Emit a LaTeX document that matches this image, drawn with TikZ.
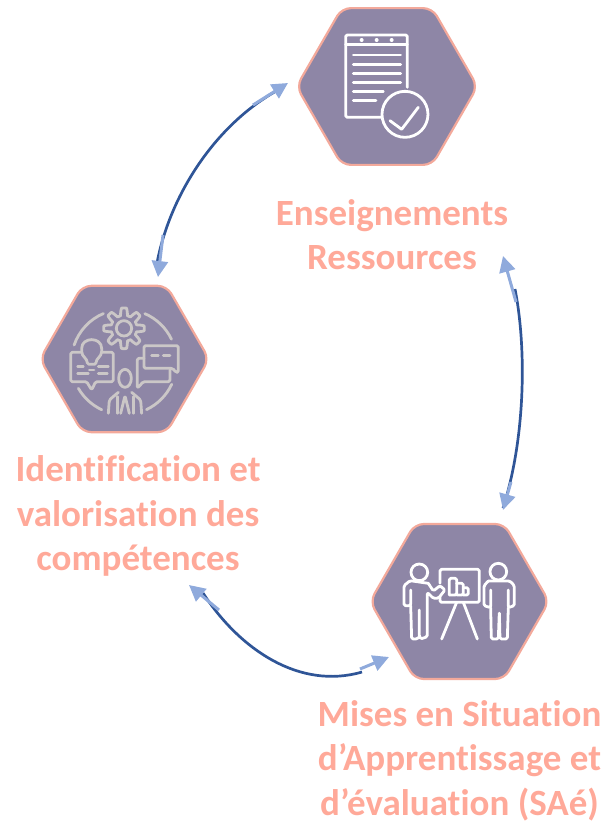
\documentclass[tikz,border=0pt]{standalone}
\usepackage{fontspec}
\setmainfont[Ligatures=CommonOff]{Carlito}
\usetikzlibrary{shapes.geometric,arrows.meta,positioning}
\definecolor{hexfill}{HTML}{8E86A6}
\definecolor{hexline}{HTML}{F3A99B}
\definecolor{labelcol}{HTML}{FFA999}
\definecolor{arcdark}{HTML}{2F5597}
\definecolor{arclight}{HTML}{8FAADC}
\definecolor{icongrey}{HTML}{CBC7C7}
\tikzset{
	hexnode/.style={regular polygon,regular polygon sides=6,draw=hexline,fill=hexfill,line width=2.2pt,rounded corners=9pt,inner sep=0pt,outer sep=0pt},
	titletext/.style={font=\fontsize{37}{44.5}\selectfont\bfseries,text=labelcol,align=center,inner sep=0pt},
	arcline/.style={draw=arcdark,line width=2.7pt},
	tipline/.style={draw=arclight,line width=3pt,-{Triangle[length=16pt,width=16pt]}},
	iconline/.style={line width=2.8pt,line cap=round,line join=round,rounded corners=1.5pt},
}
\begin{document}
\begin{tikzpicture}[x=1pt,y=-1pt,node distance=148pt]
	\useasboundingbox (0,0) rectangle (608,823);

	\node[hexnode,minimum size=181pt] (ressources) at (387,86.5) {};
	\node[hexnode,minimum size=169pt] (competences) at (124.5,359) {};
	\node[hexnode,minimum size=179pt] (sae) at (459.5,601.5) {};

	\node[titletext,xshift=5pt] (ressourcestext) [below of=ressources] {Enseignements\\Ressources};
	\node[titletext,xshift=13.5pt,node distance=157pt] (competencestext) [below of=competences] {Identification et\\valorisation des\\compétences};
	\node[titletext,node distance=159pt] (saetext) [below of=sae] {Mises en Situation\\d’Apprentissage et\\d’évaluation (SAé)};

	% ends of the arcs
	\coordinate (a1) at (278,90);
	\coordinate (a2) at (157,263);
	\coordinate (b1) at (515,289);
	\coordinate (b2) at (503,508);
	\coordinate (c1) at (203,593);
	\coordinate (c2) at (362,672);

	\draw[arcline] (a1) .. controls (215,125) and (170,195) .. (a2);
	\draw[arcline] (b1) .. controls (527,350) and (525,440) .. (b2);
	\draw[arcline] (c1) .. controls (240,650) and (300,690) .. (c2);

	\draw[tipline] (253,105) -- (288,83);
	\draw[tipline] (163,235) -- (158,277);
	\draw[tipline] (516,302) -- (503,256);
	\draw[tipline] (511,482) -- (503,510);
	\draw[tipline] (219,610) -- (189,585);
	\draw[tipline] (360,669) -- (389,657);

	% sheet and check mark
	\begin{scope}[shift={(280,0)},x=.3333pt,y=-.3333pt,draw=white,iconline]
		\draw (382,262) -- (382,120) -- (382,105) -- (197,105) -- (197,352) -- (305,352);
		\draw (197,133) -- (382,133);
		\foreach \px in {245,290,335}
			\fill[white] (\px,120) circle (6);
		\foreach \py in {165,193,220,248}
			\draw (220,\py) -- (362,\py);
		\draw (220,275) -- (310,275);
		\draw (220,302) -- (288,302);
		\draw (375,343) circle (69);
		\draw[rounded corners=0pt] (330,362) -- (365,388) -- (415,322);
	\end{scope}

	% gear, book, bubbles and person
	\begin{scope}[shift={(30,275)},x=.3333pt,y=-.3333pt,draw=icongrey,iconline]
		\foreach \angA/\angB in {198.8/247,-66.7/-25.6,25/64.7,115/150}
			\draw ({282+158*cos(\angA)},{261+158*sin(\angA)}) arc[start angle=\angA,end angle=\angB,radius=158];
		\draw[rounded corners=0pt] plot[domain=0:360,samples=241] ({282+(50+11*max(-1,min(1,1.8*cos(8*\x))))*cos(\x)},{160+(50+11*max(-1,min(1,1.8*cos(8*\x))))*sin(\x)}) -- cycle;
		\draw (282,160) circle (23);
		\draw (155,232) -- (122,232) -- (122,320) -- (170,320) -- (185,345) -- (197,320) -- (250,320) -- (250,232) -- (215,232);
		\draw (172,268) .. controls (172,250) and (155,245) .. (155,225) .. controls (155,185) and (215,185) .. (215,225) .. controls (215,245) and (198,250) .. (198,268) -- cycle;
		\draw (178,285) -- (192,285);
		\foreach \xa/\ya/\xb in {143/275/160,143/296/175,205/275/235,205/296/232}
			\draw (\xa,\ya) -- (\xb,\ya);
		\draw (342,212) -- (445,212) -- (445,292) -- (438,292) -- (428,280) -- (342,280) -- cycle;
		\draw (342,250) -- (322,250) -- (322,340) -- (340,320) -- (420,320) -- (420,284);
		\draw (365,242) -- (385,242);
		\draw (400,242) -- (420,242);
		\draw (285,310) ellipse (19 and 27);
		\draw (235,415) -- (238,375) -- (265,352);
		\draw (305,352) -- (332,375) -- (335,415);
		\draw (262,415) -- (262,365);
		\draw (310,415) -- (310,365);
		\draw (272,415) -- (285,362) -- (298,415);
	\end{scope}

	% board and two persons
	\begin{scope}[shift={(360,515)},x=.3333pt,y=-.3333pt,draw=white,iconline]
		\draw (178,172) circle (25);
		\draw (415,170) circle (25);
		\draw (240,205) -- (240,163) -- (358,163) -- (358,262) -- (240,262) -- (240,245);
		\draw (290,262) -- (245,372);
		\draw (310,262) -- (352,372);
		\draw (268,240) -- (268,190) -- (290,190) -- (290,240) -- (268,240);
		\draw (290,205) -- (310,205) -- (310,240) -- (290,240);
		\draw (310,218) -- (325,218) -- (325,240) -- (310,240);
		% left person pointing at the board
		\draw (205,205) -- (150,197) -- (132,212) -- (132,272) -- (152,272) -- (152,225);
		\draw (205,205) -- (220,228) -- (240,212) -- (255,225) -- (235,250) -- (220,250) -- (202,232) -- (202,365) -- (182,372) -- (178,365) -- (178,285);
		\draw (178,365) -- (172,372) -- (155,372) -- (152,272);
		% right person
		\draw (385,198) -- (450,198) -- (463,212) -- (463,272) -- (445,278) -- (445,225);
		\draw (385,198) -- (372,212) -- (372,272) -- (392,278) -- (392,225);
		\draw (392,278) -- (394,372) -- (415,372) -- (418,290) -- (420,372) -- (442,372) -- (445,278);
	\end{scope}
\end{tikzpicture}
\end{document}
